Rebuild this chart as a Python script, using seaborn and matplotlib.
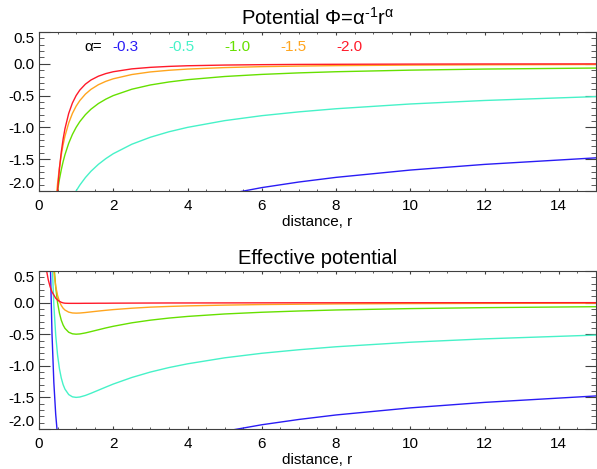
import pandas as pd
import seaborn as sns
import matplotlib.pyplot as plt
from matplotlib.ticker import MultipleLocator

# distance samples shared by every curve
r = [0.2, 0.25, 0.3, 0.35, 0.4, 0.45, 0.5, 0.55, 0.6, 0.65, 0.7, 0.8, 0.9, 1.0,
     1.1, 1.25, 1.4, 1.6, 1.8, 2.0, 2.5, 3.0, 3.5, 4.0, 5.0, 6.0, 7.0, 8.0,
     10.0, 12.0, 15.0]

alphas = ["-0.3", "-0.5", "-1.0", "-1.5", "-2.0"]
colors = ["#2a1cf5", "#46f2c8", "#66e000", "#ffa51e", "#ff1a2a"]

# top panel: potential
pot_03 = [-5.402, -5.052, -4.784, -4.567, -4.388, -4.236, -4.104, -3.988, -3.885, -3.793,
          -3.710, -3.564, -3.440, -3.333, -3.239, -3.118, -3.013, -2.895, -2.795, -2.708,
          -2.532, -2.397, -2.289, -2.199, -2.057, -1.947, -1.859, -1.786, -1.671, -1.582, -1.479]
pot_05 = [-4.472, -4.0, -3.651, -3.381, -3.162, -2.981, -2.828, -2.697, -2.582, -2.481,
          -2.390, -2.236, -2.108, -2.0, -1.907, -1.789, -1.690, -1.581, -1.491, -1.414,
          -1.265, -1.155, -1.069, -1.0, -0.894, -0.816, -0.756, -0.707, -0.632, -0.577, -0.516]
pot_10 = [-5.0, -4.0, -3.333, -2.857, -2.5, -2.222, -2.0, -1.818, -1.667, -1.538,
          -1.429, -1.25, -1.111, -1.0, -0.909, -0.8, -0.714, -0.625, -0.556, -0.5,
          -0.4, -0.333, -0.286, -0.25, -0.2, -0.167, -0.143, -0.125, -0.1, -0.083, -0.067]
pot_15 = [-7.454, -5.333, -4.057, -3.220, -2.635, -2.208, -1.886, -1.634, -1.434, -1.272,
          -1.138, -0.932, -0.781, -0.667, -0.578, -0.477, -0.402, -0.329, -0.276, -0.236,
          -0.169, -0.128, -0.102, -0.083, -0.060, -0.045, -0.036, -0.029, -0.021, -0.016, -0.011]
pot_20 = [-12.5, -8.0, -5.556, -4.082, -3.125, -2.469, -2.0, -1.653, -1.389, -1.183,
          -1.020, -0.781, -0.617, -0.5, -0.413, -0.32, -0.255, -0.195, -0.154, -0.125,
          -0.08, -0.056, -0.041, -0.031, -0.02, -0.014, -0.010, -0.008, -0.005, -0.003, -0.002]

# bottom panel: effective potential
eff_03 = [7.098, 2.948, 0.772, -0.485, -1.263, -1.767, -2.104, -2.335, -2.496, -2.610,
          -2.690, -2.783, -2.823, -2.833, -2.826, -2.798, -2.758, -2.700, -2.641, -2.583,
          -2.452, -2.341, -2.248, -2.168, -2.037, -1.933, -1.849, -1.778, -1.666, -1.579, -1.477]
eff_05 = [8.028, 4.0, 1.905, 0.701, -0.037, -0.512, -0.828, -1.044, -1.193, -1.298,
          -1.370, -1.455, -1.491, -1.5, -1.494, -1.469, -1.435, -1.386, -1.337, -1.289,
          -1.185, -1.099, -1.028, -0.969, -0.874, -0.802, -0.746, -0.699, -0.627, -0.574, -0.514]
eff_10 = [7.5, 4.0, 2.222, 1.225, 0.625, 0.247, 0.0, -0.165, -0.278, -0.355,
          -0.408, -0.469, -0.494, -0.5, -0.496, -0.48, -0.459, -0.430, -0.401, -0.375,
          -0.32, -0.278, -0.245, -0.219, -0.18, -0.153, -0.133, -0.117, -0.095, -0.080, -0.065]
eff_15 = [5.046, 2.667, 1.499, 0.862, 0.490, 0.261, 0.114, 0.019, -0.045, -0.089,
          -0.118, -0.151, -0.164, -0.167, -0.165, -0.157, -0.147, -0.134, -0.122, -0.111,
          -0.089, -0.072, -0.061, -0.052, -0.040, -0.031, -0.026, -0.021, -0.016, -0.013, -0.009]
eff_20 = [0.52, 0.36, 0.25, 0.17, 0.12, 0.07, 0.04, 0.02, 0.005, -0.005,
          -0.01, -0.012, -0.012, -0.012, -0.012, -0.011, -0.011, -0.010, -0.010, -0.009,
          -0.008, -0.007, -0.006, -0.006, -0.005, -0.004, -0.003, -0.003, -0.002, -0.002, -0.001]

yticks = [-2.0, -1.5, -1.0, -0.5, 0.0, 0.5]
ytick_labels = ["-2.0", "-1.5", "-1.0", "-0.5", "0.0", "0.5"]
xticks = [0, 2, 4, 6, 8, 10, 12, 14]


def long_table(series):
    frames = [pd.DataFrame({"r": r, "phi": vals, "alpha": a}) for a, vals in zip(alphas, series)]
    return pd.concat(frames, ignore_index=True)


sns.set_style("ticks")
plt.rcParams["font.family"] = ["Liberation Sans", "DejaVu Sans"]
plt.rcParams["axes.unicode_minus"] = False
plt.rcParams["mathtext.fontset"] = "custom"
plt.rcParams["mathtext.rm"] = "Liberation Sans"
plt.rcParams["mathtext.it"] = "Liberation Sans"
plt.rcParams["text.color"] = "black"
plt.rcParams["axes.labelcolor"] = "black"
plt.rcParams["xtick.labelcolor"] = "black"
plt.rcParams["ytick.labelcolor"] = "black"

fig = plt.figure(figsize=(5.97, 4.69), dpi=100)
ax1 = fig.add_axes([0.0653, 0.5928, 0.933, 0.339])
ax2 = fig.add_axes([0.0653, 0.0853, 0.933, 0.3369])
palette = dict(zip(alphas, colors))

panels = [
    (ax1, [pot_03, pot_05, pot_10, pot_15, pot_20],
     "Potential \u03a6=\u03b1$^{\\mathregular{\u20101}}$r$^{\\mathregular{\u03b1}}$"),
    (ax2, [eff_03, eff_05, eff_10, eff_15, eff_20], "Effective potential"),
]

for ax, series, title in panels:
    sns.lineplot(data=long_table(series), x="r", y="phi", hue="alpha", hue_order=alphas,
                 palette=palette, linewidth=1.0, legend=False, estimator=None, sort=False, ax=ax)
    ax.set_xlim(0, 15)
    ax.set_ylim(-2.0, 0.5)
    ax.set_xticks(xticks)
    ax.xaxis.set_minor_locator(MultipleLocator(0.5))
    ax.set_yticks(yticks)
    ax.set_yticklabels(ytick_labels)
    ax.yaxis.set_minor_locator(MultipleLocator(0.1))
    ax.tick_params(which="both", direction="in", top=True, right=True, color="0.25",
                   labelcolor="black", labelsize=11)
    ax.tick_params(axis="y", which="major", length=7.7, pad=3.5)
    ax.tick_params(axis="y", which="minor", length=3.8)
    ax.tick_params(axis="x", which="major", length=2.5, pad=6)
    ax.tick_params(axis="x", which="minor", length=1.3)
    for s in ax.spines.values():
        s.set_linewidth(0.8)
        s.set_color("0.25")
    ax.set_xlabel("distance, r", fontsize=11, labelpad=1, color="black")
    ax.set_ylabel("")
    ax.set_title(title, fontsize=14.5, pad=5, color="black")
    labels = ax.get_yticklabels()
    labels[0].set_va("bottom")
    labels[-1].set_va("top")

# alpha key written inside the top panel
ax1.text(0.097, 0.908, "\u03b1=", transform=ax1.transAxes, ha="center", va="center",
         fontsize=11, color="black")
for i, (a, c) in enumerate(zip(alphas, colors)):
    ax1.text(0.156 + 0.1005 * i, 0.908, a, color=c, transform=ax1.transAxes,
             ha="center", va="center", fontsize=11)

fig.savefig("out.png", dpi=100)
